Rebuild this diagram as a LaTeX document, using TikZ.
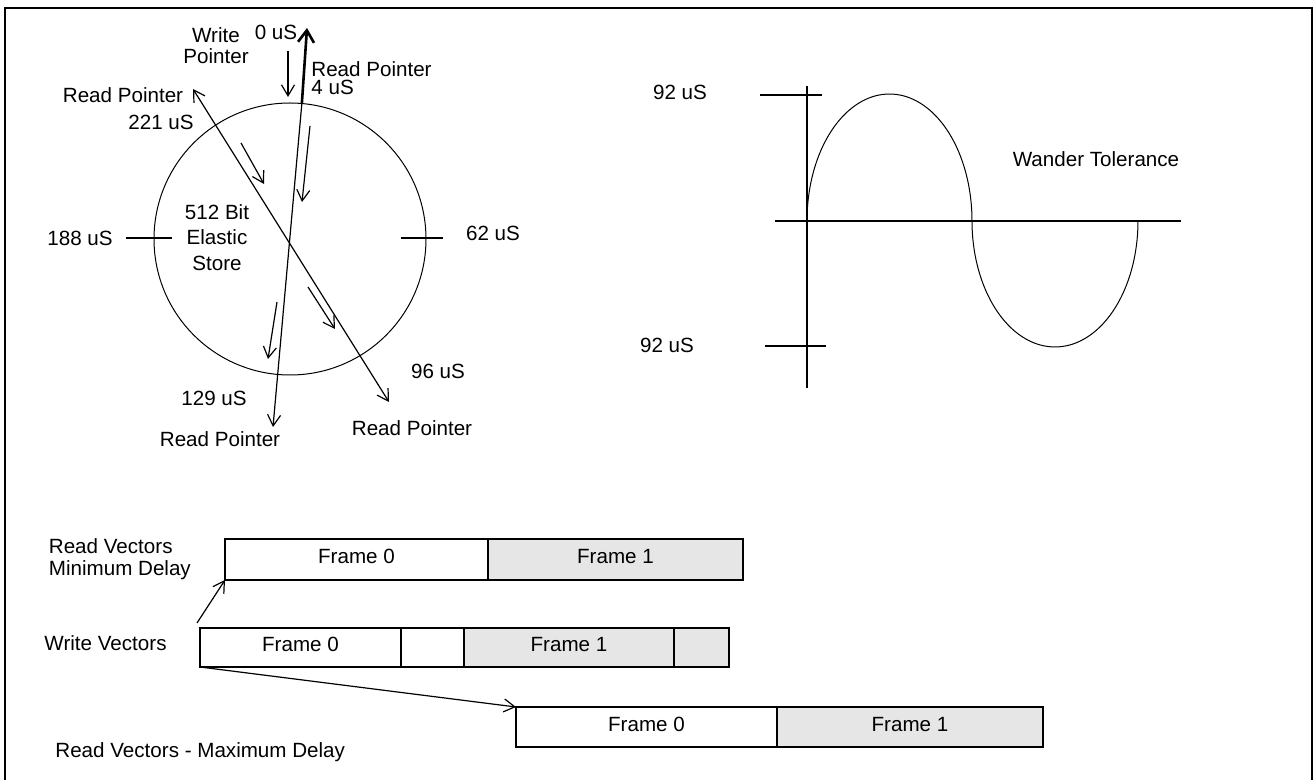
\documentclass[tikz,border=0pt]{standalone}
\usepackage{fontspec}
\setmainfont{Liberation Sans}
\usetikzlibrary{arrows.meta,positioning,calc}
\definecolor{grisclair}{HTML}{E6E6E6}

\begin{document}
\begin{tikzpicture}[x=0.5pt,y=-0.5pt,font=\fontsize{10.3}{12.75}\selectfont,
  >={Straight Barb[length=5.5pt,width=6.5pt]}]
\tikzset{
  txt/.style={inner sep=0pt},
  fin/.style={line width=0.6pt},
  trait/.style={line width=1.1pt},
  gras/.style={line width=1.3pt,-{Straight Barb[length=6pt,width=8pt]}},
  trame/.style={draw,line width=1pt,inner sep=0pt,outer sep=0pt,text height=7.5pt,text depth=3pt}
}
\useasboundingbox (0,0) rectangle (1314,780);
\draw[line width=1.35pt] (5,780) -- (5,8) -- (1312,8) -- (1312,780);

% le cercle et les pointeurs
\node[draw,circle,line width=0.5pt,minimum size=136pt,inner sep=0pt,outer sep=0pt] (es) at (290,239) {};
\draw[trait] (126,238) -- (172,238);
\draw[trait] (401,238) -- (443,238);
\coordinate (p0) at (307,28);
\coordinate (p129) at (273,427);
\coordinate (p221) at (193,89);
\coordinate (p96) at (389,402);
\draw[fin,->] (es.85) -- (p129);
\draw[gras] (es.85) -- (p0);
\draw[fin,<->] (p221) -- (p96);
\draw[fin,->] (288,51) -- (288,97);
\draw[fin,->] (310,126) -- (302,202);
\draw[fin,->] (241,143) -- (264,184);
\draw[fin,->] (277,302) -- (268,359);
\draw[fin,->] (308,287) -- (335,329);

\node[txt,align=center,anchor=north,font=\fontsize{10.3}{10.5}\selectfont] (wp) at (216,27.5) {Write\\Pointer};
\node[txt,anchor=base] (t0) at (276,39.5) {0 uS};
\node[txt,align=left,anchor=north west,font=\fontsize{10.3}{9}\selectfont] (rp4) at (311,61) {Read Pointer\\4 uS};
\node[txt,anchor=base] (rp221) at (123,103) {Read Pointer};
\node[txt,anchor=base] (t221) at (161,130) {221 uS};
\node[txt,anchor=base] (t188) at (80,246) {188 uS};
\node[txt,anchor=base] (t62) at (493,241) {62 uS};
\node[txt,align=center] (estxt) at (217,237.5) {512 Bit\\Elastic\\Store};
\node[txt,anchor=base] (t96) at (438,379) {96 uS};
\node[txt,anchor=base] (t129) at (214,406) {129 uS};
\node[txt,anchor=base] (rp129) at (220,447) {Read Pointer};
\node[txt,anchor=base] (rp96) at (412,436) {Read Pointer};

% la courbe et les axes
\draw[trait] (807,86) -- (807,388);
\draw[trait] (775,221) -- (1181,221);
\draw[trait] (760,95) -- (822,95);
\draw[trait] (765,346) -- (826,346);
\draw[line width=0.5pt,domain=180:0,samples=60,smooth] plot ({889.5+82.5*cos(\x)},{221-127*sin(\x)});
\draw[line width=0.5pt,domain=180:360,samples=60,smooth] plot ({1055+83*cos(\x)},{221-126*sin(\x)});
\node[txt,anchor=base] (amphaut) at (680,100) {92 uS};
\node[txt,anchor=base] (amphbas) at (667,353) {92 uS};
\node[txt,anchor=base] (wt) at (1096,167) {Wander Tolerance};

% les trames
\node[trame,minimum width=131.5pt,minimum height=20.5pt,anchor=north west] (rmin0) at (225,539) {Frame 0};
\node[trame,fill=grisclair,minimum width=127.5pt,minimum height=20.5pt,right=0pt of rmin0] (rmin1) {Frame 1};
\node[trame,minimum width=100.5pt,minimum height=19.5pt,anchor=north west] (wv0) at (200,628) {Frame 0};
\node[trame,minimum width=31.5pt,minimum height=19.5pt,right=0pt of wv0] (wvx0) {};
\node[trame,fill=grisclair,minimum width=105pt,minimum height=19.5pt,right=0pt of wvx0] (wv1) {Frame 1};
\node[trame,fill=grisclair,minimum width=27.5pt,minimum height=19.5pt,right=0pt of wv1] (wvx1) {};
\node[trame,minimum width=130.5pt,minimum height=20pt,anchor=north west] (rmax0) at (516,707) {Frame 0};
\node[trame,fill=grisclair,minimum width=133pt,minimum height=20pt,right=0pt of rmax0] (rmax1) {Frame 1};

\node[txt,align=left,anchor=north west,font=\fontsize{10.3}{11}\selectfont] (lmin) at (48.5,538) {Read Vectors\\Minimum Delay};
\node[txt,anchor=base] (lwv) at (105.5,650.5) {Write Vectors};
\node[txt,anchor=base west] (lmax) at (55,758) {Read Vectors - Maximum Delay};

\coordinate (wvdep) at ($(wv0.north west)+(-3,-5)$);
\draw[fin,->] (wvdep) -- (rmin0.south west);
\draw[fin,->] (wv0.south west) -- (rmax0.north west);
\end{tikzpicture}
\end{document}
